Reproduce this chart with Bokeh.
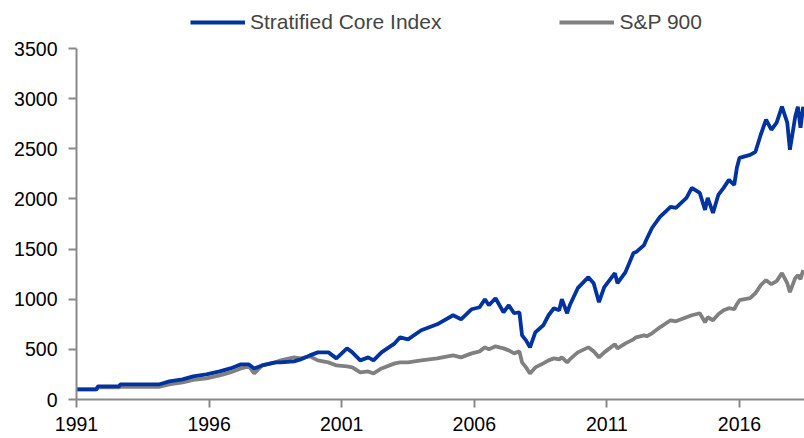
from bokeh.plotting import figure
from bokeh.models import Range1d, FixedTicker, Legend, LegendItem, ColumnDataSource
from bokeh.embed import file_html
from bokeh.resources import INLINE

# Decimal year positions
dates = [1991.0, 1991.75, 1991.8, 1992.6, 1992.65, 1994.1, 1994.5, 1995.0, 1995.4, 1995.9,
         1996.4, 1996.8, 1997.2, 1997.5, 1997.7, 1998.0, 1998.5, 1998.7, 1999.2, 1999.45,
         1999.8, 2000.1, 2000.5, 2000.8, 2001.2, 2001.4, 2001.7, 2002.0, 2002.2, 2002.5,
         2003.0, 2003.2, 2003.5, 2004.0, 2004.6, 2005.2, 2005.5, 2005.9, 2006.2, 2006.4,
         2006.55, 2006.8, 2007.1, 2007.3, 2007.5, 2007.7, 2007.8, 2007.95, 2008.1, 2008.3,
         2008.6, 2008.8, 2009.0, 2009.2, 2009.3, 2009.5, 2009.6, 2009.9, 2010.3, 2010.5,
         2010.7, 2010.9, 2011.3, 2011.4, 2011.7, 2012.0, 2012.1, 2012.4, 2012.5, 2012.7,
         2013.0, 2013.4, 2013.6, 2014.0, 2014.2, 2014.5, 2014.7, 2014.8, 2015.0, 2015.2,
         2015.4, 2015.6, 2015.8, 2015.9, 2016.0, 2016.4, 2016.6, 2016.8, 2017.0, 2017.2,
         2017.4, 2017.6, 2017.8, 2017.9, 2018.1, 2018.2, 2018.3, 2018.4]

stratified_core = [100, 100, 130, 130, 150, 150, 180, 200, 230, 250,
                   280, 310, 350, 350, 310, 340, 370, 370, 380, 400,
                   440, 470, 470, 410, 510, 470, 390, 420, 390, 470,
                   560, 620, 600, 690, 750, 840, 800, 900, 920, 1000,
                   940, 1010, 870, 940, 860, 870, 640, 590, 520, 670,
                   740, 840, 910, 890, 1000, 860, 940, 1110, 1220, 1160,
                   970, 1120, 1260, 1160, 1270, 1460, 1470, 1540, 1600, 1710,
                   1820, 1920, 1910, 2010, 2110, 2060, 1890, 2010, 1860, 2040,
                   2110, 2190, 2140, 2310, 2410, 2440, 2470, 2640, 2790, 2690,
                   2760, 2920, 2760, 2490, 2820, 2920, 2710, 2920]

sp900 = [100, 100, 120, 120, 125, 125, 150, 170, 195, 210,
         240, 270, 310, 330, 260, 340, 370, 390, 420, 410,
         430, 390, 370, 340, 330, 320, 270, 280, 260, 310,
         360, 370, 370, 390, 410, 440, 420, 460, 480, 520,
         500, 530, 510, 490, 460, 480, 370, 320, 260, 320,
         360, 390, 410, 400, 420, 370, 400, 470, 520, 480,
         420, 470, 550, 510, 560, 600, 620, 640, 630, 660,
         720, 790, 780, 820, 840, 860, 770, 820, 790, 850,
         890, 910, 900, 950, 990, 1010, 1060, 1140, 1190, 1150,
         1180, 1260, 1160, 1070, 1210, 1240, 1200, 1290]

x_ticks = [1991, 1996, 2001, 2006, 2011, 2016]
y_ticks = [0, 500, 1000, 1500, 2000, 2500, 3000, 3500]

FONT = "Liberation Sans"
AXIS_COL = "#898989"

src = ColumnDataSource(dict(x=dates, a=stratified_core, b=sp900))

# frame spans the full height above the x axis; the y axis line stops at 3500
p = figure(width=804, height=438, output_backend="svg", toolbar_location=None,
           x_range=Range1d(1991, 2018.45), y_range=Range1d(0, 3500 * 399 / 351),
           min_border_left=76, min_border_right=0, min_border_top=0, min_border_bottom=39)
p.grid.visible = False
p.outline_line_color = None
p.background_fill_color = "white"
p.border_fill_color = "white"

r2 = p.line("x", "b", source=src, line_color="#808080", line_width=3.8)
r1 = p.line("x", "a", source=src, line_color="#0033A0", line_width=3.8)

for ax in (p.xaxis[0], p.yaxis[0]):
    ax.axis_line_color = AXIS_COL
    ax.axis_line_width = 2
    ax.major_tick_line_color = AXIS_COL
    ax.major_tick_line_width = 2
    ax.major_tick_in = 0
    ax.major_tick_out = 8
    ax.minor_tick_line_color = None
    ax.major_label_text_font = FONT
    ax.major_label_text_font_size = "19.5px"
    ax.major_label_text_color = "black"

p.xaxis.major_label_standoff = 9
p.yaxis.major_label_standoff = 11
p.yaxis.bounds = (0, 3500)

p.xaxis.ticker = FixedTicker(ticks=x_ticks)
p.yaxis.ticker = FixedTicker(ticks=y_ticks)

legend = Legend(items=[LegendItem(label="Stratified Core Index", renderers=[r1]),
                       LegendItem(label="S&P 900", renderers=[r2])],
                orientation="horizontal", location=(114, 365),
                glyph_width=55, glyph_height=24, label_height=24, label_standoff=5, spacing=118,
                padding=0, margin=0, border_line_color=None, background_fill_alpha=0,
                label_text_font=FONT, label_text_font_size="21px")
p.add_layout(legend, "center")

open("out.html", "w").write(file_html(p, INLINE))
